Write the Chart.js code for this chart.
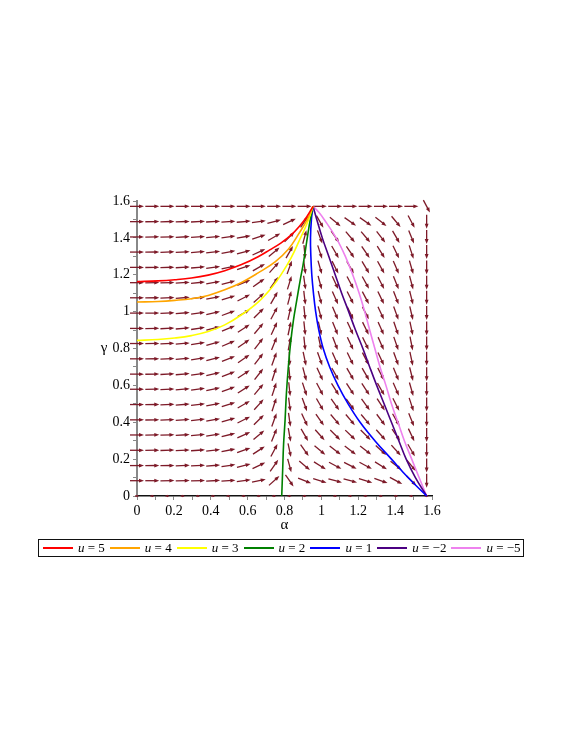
<!DOCTYPE html>
<html>
<head>
<meta charset="utf-8">
<script src="https://cdn.jsdelivr.net/npm/chart.js@4.4.1/dist/chart.umd.min.js"></script>
<style>
  html, body { margin: 0; padding: 0; background: #fff; }
  #wrap { position: relative; width: 581px; height: 752px; }
  #legend {
    position: absolute; left: 38px; top: 539px; width: 484px; height: 16px;
    border: 1.5px solid #111; display: flex; align-items: center;
    font-family: "Liberation Serif", "Times New Roman", serif; font-size: 13px; color: #000;
  }
  .item { display: flex; align-items: center; margin-left: 4px; margin-right: 1px; white-space: nowrap; }
  .swatch { width: 30px; height: 0; border-top: 2px solid; margin-right: 5px; }
</style>
</head>
<body>
<div id="wrap">
  <canvas id="plot" width="581" height="752"></canvas>
  <div id="legend"></div>
</div>
<script>
// grid of the direction field (alpha and gamma, 0 .. pi/2 in 19 steps)
const alphaGrid = [0, 0.083, 0.165, 0.248, 0.331, 0.413, 0.496, 0.579, 0.661, 0.744,
  0.827, 0.909, 0.992, 1.075, 1.157, 1.240, 1.323, 1.405, 1.488, 1.571];
const gammaGrid = [0, 0.083, 0.165, 0.248, 0.331, 0.413, 0.496, 0.579, 0.661, 0.744,
  0.827, 0.909, 0.992, 1.075, 1.157, 1.240, 1.323, 1.405, 1.488, 1.571];

// arrow angles in degrees, one row per gamma (bottom row first)
const fieldAngles = [
  [0, 0, 0, 0, 0, 0, 0, 0, 0, 0, 0, 0, 0, 0, 0, 0, 0, 0, 0, 0],
  [0, 0, 1, 1, 2, 3, 4, 7, 12, 42, -55, -22, -17, -15, -15, -17, -20, -28, -45, -90],
  [0, 1, 1, 2, 3, 5, 8, 14, 25, 55, -75, -40, -32, -28, -27, -28, -32, -38, -50, -90],
  [0, 1, 2, 3, 4, 7, 11, 19, 33, 62, -78, -55, -40, -38, -37, -38, -42, -48, -60, -90],
  [0, 1, 2, 3, 5, 9, 14, 24, 40, 68, -80, -60, -48, -45, -44, -45, -48, -55, -65, -90],
  [0, 1, 2, 4, 6, 10, 16, 27, 45, 70, -82, -65, -55, -50, -50, -50, -53, -60, -68, -90],
  [0, 1, 2, 4, 7, 11, 18, 30, 48, 72, -83, -70, -60, -55, -54, -54, -57, -63, -72, -90],
  [0, 1, 3, 5, 8, 12, 20, 32, 50, 72, -84, -72, -62, -58, -57, -57, -60, -66, -74, -90],
  [0, 1, 3, 5, 8, 13, 21, 33, 52, 72, -85, -75, -65, -61, -60, -60, -63, -68, -76, -90],
  [0, 1, 3, 5, 9, 14, 22, 35, 52, 70, -88, -78, -70, -66, -64, -63, -65, -70, -78, -90],
  [0, 1, 3, 5, 9, 15, 23, 35, 52, 68, 80, -84, -78, -69, -65, -64, -66, -71, -79, -90],
  [0, 1, 3, 5, 9, 14, 22, 33, 50, 65, 78, -84, -77, -68, -65, -64, -66, -71, -78, -90],
  [0, 1, 3, 5, 8, 13, 20, 30, 45, 62, 77, -84, -76, -67, -64, -63, -65, -70, -77, -90],
  [0, 1, 2, 4, 7, 11, 17, 27, 42, 60, 75, -83, -76, -66, -63, -62, -64, -69, -76, -90],
  [0, 1, 2, 4, 6, 10, 15, 22, 35, 55, 73, -82, -75, -65, -62, -61, -63, -68, -75, -90],
  [0, 1, 2, 3, 5, 8, 12, 18, 30, 48, 70, -82, -74, -63, -60, -59, -61, -67, -74, -90],
  [0, 1, 2, 3, 5, 7, 10, 15, 25, 40, 60, -85, -72, -60, -56, -56, -58, -64, -72, -90],
  [0, 1, 2, 3, 4, 5, 7, 10, 18, 30, 45, 75, -70, -55, -50, -50, -52, -60, -68, -90],
  [0, 1, 2, 2, 3, 3, 4, 5, 8, 15, 25, 55, -60, -40, -35, -35, -38, -50, -62, -90],
  [0, 0, 0, 0, 0, 0, 0, 0, 0, 0, 0, 0, 0, 0, 0, 0, 0, 0, 0, -62],
];
// arrow length (px) per row: the gamma = 0 row has near-zero arrows
const rowArrowLength = [4, 14, 14, 14, 14, 14, 14, 14, 14, 14, 14, 14, 14, 14, 14, 14, 14, 14, 14, 14];

// solution curves [alpha, gamma]
const curveU5 = [[0, 1.163], [0.114, 1.167], [0.205, 1.173], [0.295, 1.182], [0.386, 1.198], [0.476, 1.222],
  [0.567, 1.255], [0.657, 1.298], [0.72, 1.335], [0.78, 1.372], [0.835, 1.415], [0.88, 1.462], [0.921, 1.515], [0.955, 1.571]];
const curveU4 = [[0, 1.052], [0.114, 1.055], [0.205, 1.061], [0.295, 1.07], [0.386, 1.088], [0.476, 1.118],
  [0.567, 1.158], [0.657, 1.21], [0.749, 1.27], [0.822, 1.34], [0.876, 1.42], [0.921, 1.495], [0.955, 1.571]];
const curveU3 = [[0, 0.844], [0.114, 0.849], [0.205, 0.857], [0.295, 0.87], [0.386, 0.892], [0.476, 0.928],
  [0.567, 0.983], [0.657, 1.052], [0.73, 1.13], [0.784, 1.205], [0.835, 1.29], [0.88, 1.385], [0.921, 1.475], [0.955, 1.571]];
const curveU2 = [[0.785, 0], [0.79, 0.14], [0.795, 0.28], [0.803, 0.41], [0.81, 0.55], [0.82, 0.69], [0.832, 0.82],
  [0.848, 0.95], [0.868, 1.07], [0.885, 1.17], [0.9, 1.25], [0.913, 1.33], [0.925, 1.41], [0.94, 1.5], [0.955, 1.571]];
const curveU1 = [[0.955, 1.571], [0.946, 1.5], [0.941, 1.4], [0.943, 1.3], [0.948, 1.2], [0.957, 1.1], [0.969, 1.0],
  [0.986, 0.9], [1.01, 0.8], [1.045, 0.7], [1.09, 0.6], [1.145, 0.5], [1.21, 0.4], [1.29, 0.3],
  [1.38, 0.2], [1.47, 0.1], [1.571, 0]];
const curveUm2 = [[0.955, 1.571], [0.975, 1.5], [1.005, 1.4], [1.04, 1.3], [1.075, 1.2], [1.11, 1.1], [1.148, 1.0],
  [1.185, 0.9], [1.225, 0.8], [1.262, 0.7], [1.3, 0.6], [1.34, 0.5], [1.38, 0.4], [1.42, 0.3],
  [1.46, 0.2], [1.51, 0.1], [1.571, 0]];
const curveUm5 = [[0.955, 1.571], [0.985, 1.54], [1.015, 1.5], [1.08, 1.4], [1.13, 1.3], [1.17, 1.2], [1.205, 1.1],
  [1.235, 1.0], [1.262, 0.9], [1.29, 0.8], [1.318, 0.7], [1.35, 0.6], [1.38, 0.5], [1.415, 0.4], [1.45, 0.3],
  [1.49, 0.2], [1.53, 0.1], [1.571, 0]];

const curves = [curveU5, curveU4, curveU3, curveU2, curveU1, curveUm2, curveUm5];
const uValues = ["5", "4", "3", "2", "1", "\u22122", "\u22125"];
const curveColors = ["#ff0000", "#ffa500", "#ffff00", "#008000", "#0000ff", "#4b0082", "#ee82ee"];

const tickValues = [0, 0.2, 0.4, 0.6, 0.8, 1, 1.2, 1.4, 1.6];
const tickLabels = ["0", "0.2", "0.4", "0.6", "0.8", "1", "1.2", "1.4", "1.6"];

const SERIF = '"Liberation Serif", "Times New Roman", serif';
const ARROW_COLOR = "#7d1a28";

function tickLabel(v) {
  const i = tickValues.findIndex((t) => Math.abs(t - v) < 1e-6);
  return i >= 0 ? tickLabels[i] : "";
}

function drawArrow(ctx, cx, cy, deg, len) {
  const a = (deg * Math.PI) / 180;
  const ux = Math.cos(a), uy = -Math.sin(a);
  const x0 = cx - (ux * len) / 2, y0 = cy - (uy * len) / 2;
  const x1 = cx + (ux * len) / 2, y1 = cy + (uy * len) / 2;
  const head = Math.min(5, len * 0.6), half = len < 6 ? 1.2 : 1.9;
  ctx.beginPath();
  ctx.moveTo(x0, y0);
  ctx.lineTo(x1 - ux * head * 0.6, y1 - uy * head * 0.6);
  ctx.stroke();
  ctx.beginPath();
  ctx.moveTo(x1, y1);
  ctx.lineTo(x1 - ux * head - uy * half, y1 - uy * head + ux * half);
  ctx.lineTo(x1 - ux * head + uy * half, y1 - uy * head - ux * half);
  ctx.closePath();
  ctx.fill();
}

const arrowPlugin = {
  id: "arrows",
  beforeDatasetsDraw(chart) {
    const { ctx, scales } = chart;
    ctx.save();
    ctx.strokeStyle = ARROW_COLOR;
    ctx.fillStyle = ARROW_COLOR;
    ctx.lineWidth = 1.3;
    fieldAngles.forEach((row, k) => {
      row.forEach((deg, j) => {
        const cx = scales.x.getPixelForValue(alphaGrid[j]);
        const cy = scales.y.getPixelForValue(gammaGrid[k]);
        drawArrow(ctx, cx, cy, deg, rowArrowLength[k]);
      });
    });
    ctx.restore();
  },
};

const axisTitlePlugin = {
  id: "axisTitles",
  afterDraw(chart) {
    const { ctx, chartArea } = chart;
    ctx.save();
    ctx.fillStyle = "#000";
    ctx.font = `15px ${SERIF}`;
    ctx.textAlign = "center";
    ctx.textBaseline = "middle";
    ctx.fillText("\u03b1", (chartArea.left + chartArea.right) / 2, chartArea.bottom + 29);
    ctx.fillText("\u03b3", chartArea.left - 33, (chartArea.top + chartArea.bottom) / 2);
    ctx.restore();
  },
};

const datasets = curves.map((pts, i) => ({
  label: `u = ${uValues[i]}`,
  data: pts.map(([a, g]) => ({ x: a, y: g })),
  showLine: true,
  borderColor: curveColors[i],
  backgroundColor: curveColors[i],
  borderWidth: 1.6,
  pointRadius: 0,
  tension: 0.4,
  clip: false,
}));

function axisOptions(borderColor, borderWidth, fit) {
  return {
    type: "linear",
    min: 0,
    max: 1.6,
    afterFit: fit,
    ticks: {
      stepSize: 0.1,
      autoSkip: false,
      maxRotation: 0,
      padding: 3,
      color: "#000",
      font: { family: SERIF, size: 14 },
      callback: tickLabel,
    },
    grid: { drawOnChartArea: false, drawTicks: true, tickLength: 4, color: "#888", lineWidth: 1 },
    border: { display: true, color: borderColor, width: borderWidth },
  };
}

new Chart(document.getElementById("plot"), {
  type: "scatter",
  data: { datasets },
  options: {
    responsive: false,
    animation: false,
    devicePixelRatio: 1,
    layout: { padding: { left: 0, right: 149, top: 201, bottom: 226 } },
    plugins: { legend: { display: false }, tooltip: { enabled: false } },
    scales: {
      x: axisOptions("#111", 1.6, (s) => { s.height = 30; }),
      y: axisOptions("#888", 2, (s) => { s.width = 137; }),
    },
  },
  plugins: [arrowPlugin, axisTitlePlugin],
});

document.getElementById("legend").innerHTML = uValues
  .map((u, i) => `<span class="item"><span class="swatch" style="border-color:${curveColors[i]}"></span><i>u</i>&nbsp;=&nbsp;${u}</span>`)
  .join("");
</script>
</body>
</html>
